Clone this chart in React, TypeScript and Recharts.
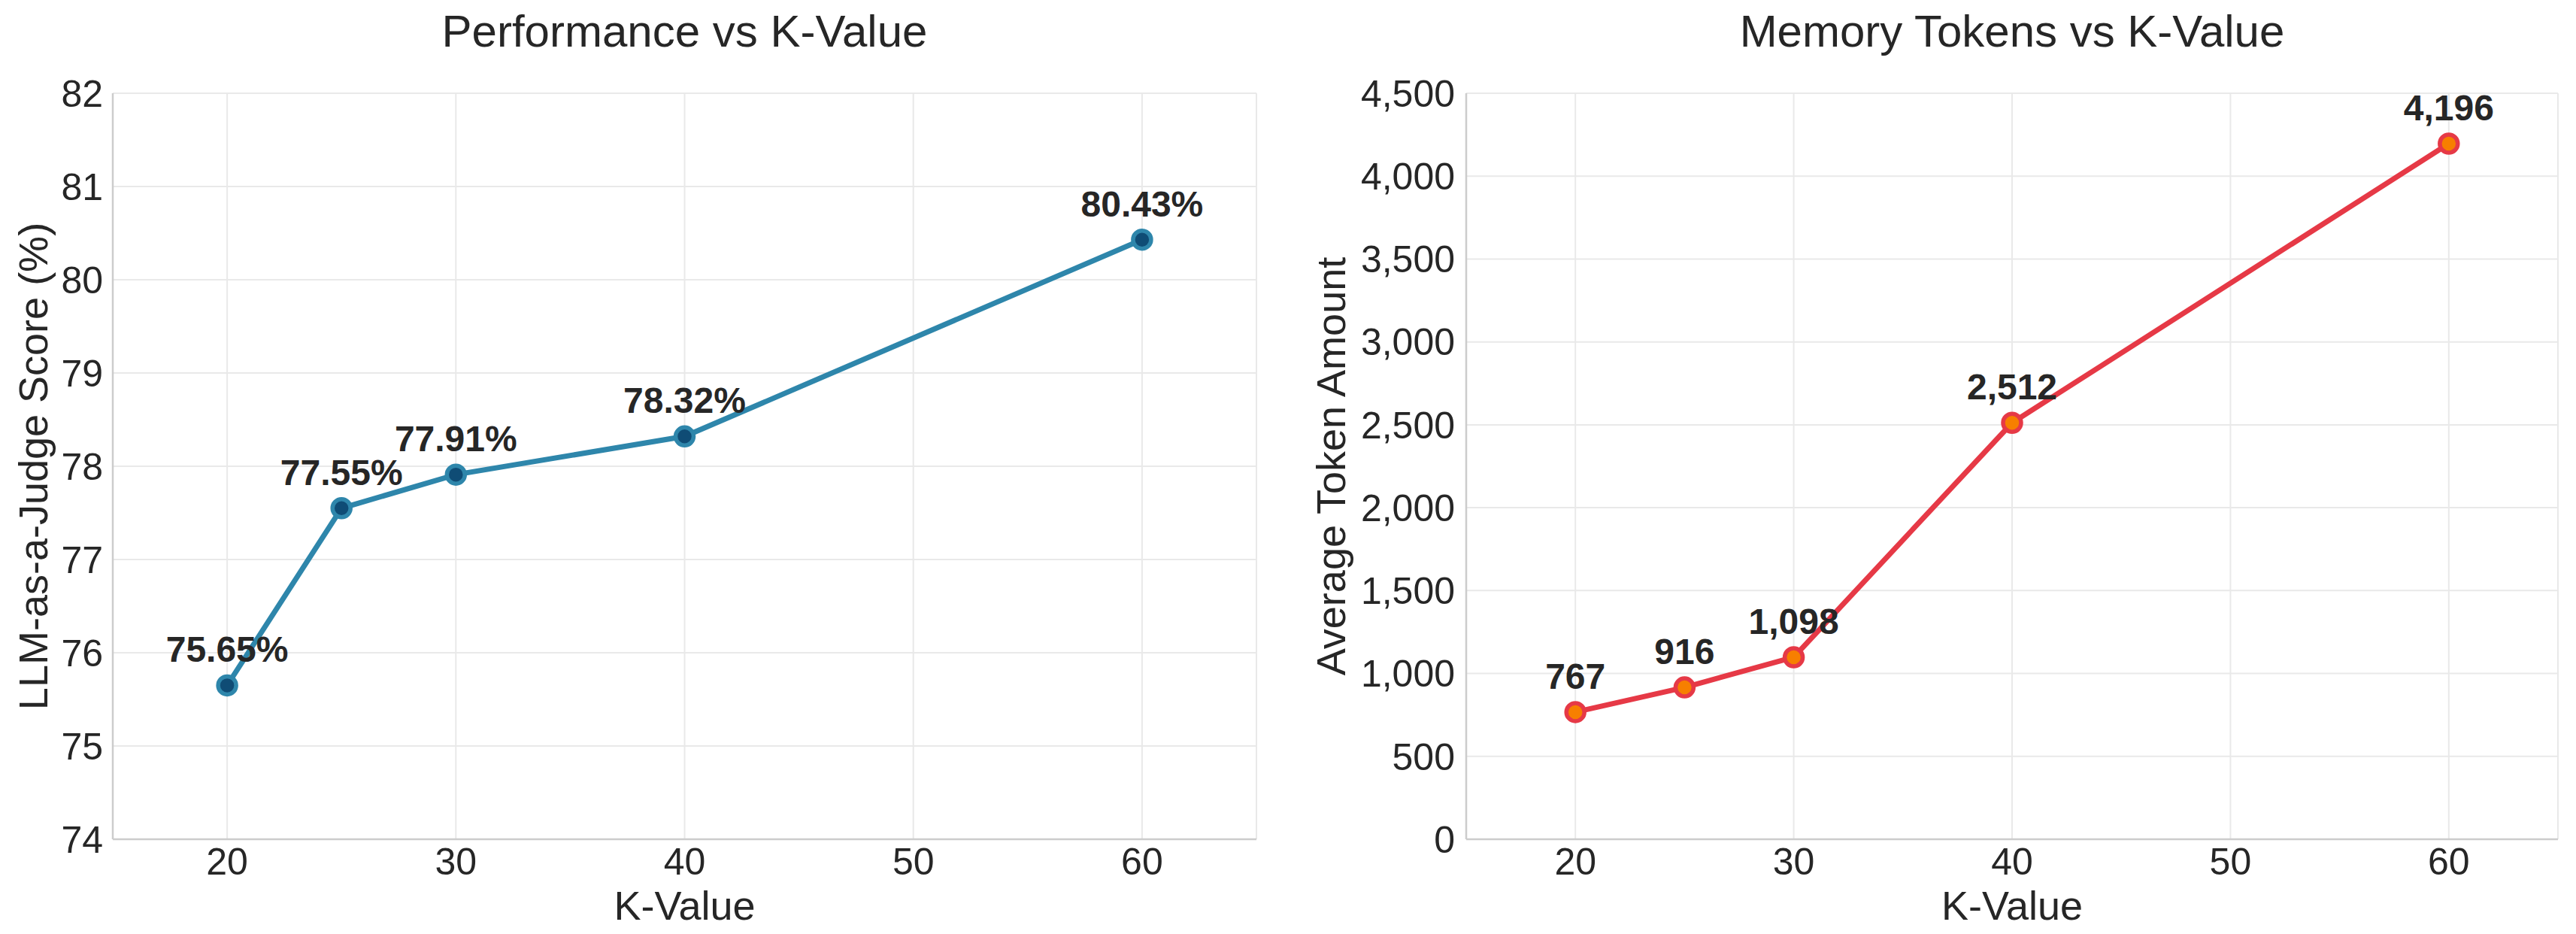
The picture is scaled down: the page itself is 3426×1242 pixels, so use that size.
import { LineChart, Line, XAxis, YAxis, CartesianGrid, LabelList, Label } from "recharts";

const kValues = [20, 25, 30, 40, 60];
const judgeScores = [75.65, 77.55, 77.91, 78.32, 80.43];
const tokenAmounts = [767, 916, 1098, 2512, 4196];

const kTicks = [20, 30, 40, 50, 60];
const scoreTicks = [74, 75, 76, 77, 78, 79, 80, 81, 82];
const tokenTicks = [0, 500, 1000, 1500, 2000, 2500, 3000, 3500, 4000, 4500];

const FONT = "'Liberation Sans', Arial, Helvetica, sans-serif";
const TEXT = "#262626";
const GRID = "#e9e9e9";
const SPINE = "#cccccc";

const W = 1713;
const H = 1242;

const perfData = kValues.map((k, i) => ({ k, v: judgeScores[i] }));
const tokenData = kValues.map((k, i) => ({ k, v: tokenAmounts[i] }));

const fmtComma = (v: number) => v.toLocaleString("en-US");

// value label sitting above each marker
const valueLabel = (fmt: (v: number) => string) => (p: any) => (
  <text
    x={p.x}
    y={p.y - 31}
    textAnchor="middle"
    fontFamily={FONT}
    fontSize={48}
    fontWeight="bold"
    fill={TEXT}
  >
    {fmt(Number(p.value))}
  </text>
);

const yTitle = (text: string, cx: number) => (p: any) => {
  const vb = p.viewBox;
  const x = vb.x + cx;
  const y = vb.y + vb.height / 2;
  return (
    <text
      x={x}
      y={y}
      transform={`rotate(-90 ${x} ${y})`}
      textAnchor="middle"
      dominantBaseline="central"
      fontFamily={FONT}
      fontSize={54}
      fill={TEXT}
    >
      {text}
    </text>
  );
};

const xTitle = (p: any) => {
  const vb = p.viewBox;
  return (
    <text
      x={vb.x + vb.width / 2}
      y={vb.y + 107}
      textAnchor="middle"
      fontFamily={FONT}
      fontSize={54}
      fill={TEXT}
    >
      K-Value
    </text>
  );
};

type PanelProps = {
  left: number;
  title: string;
  yLabel: string;
  yLabelX: number;
  data: { k: number; v: number }[];
  yDomain: [number, number];
  yTicks: number[];
  yFmt: (v: number) => string;
  labelFmt: (v: number) => string;
  yWidth: number;
  rightMargin: number;
  tickGap: number;
  lineColor: string;
  dotFill: string;
};

function Panel(p: PanelProps) {
  const plotLeft = p.yWidth;
  const plotWidth = W - p.yWidth - p.rightMargin;
  return (
    <div style={{ position: "absolute", left: p.left, top: 0, width: W, height: H }}>
      <div
        style={{
          position: "absolute",
          left: plotLeft,
          width: plotWidth,
          top: 12,
          textAlign: "center",
          fontFamily: FONT,
          fontSize: 60,
          lineHeight: "60px",
          color: TEXT,
          whiteSpace: "nowrap",
        }}
      >
        {p.title}
      </div>
      <LineChart
        width={W}
        height={H}
        data={p.data}
        margin={{ top: 124, right: p.rightMargin, bottom: 0, left: 0 }}
      >
        <CartesianGrid stroke={GRID} strokeWidth={2} />
        <XAxis
          dataKey="k"
          type="number"
          domain={[15, 65]}
          ticks={kTicks}
          height={126}
          axisLine={{ stroke: SPINE, strokeWidth: 2.5 }}
          tickLine={false}
          tickSize={9}
          tickMargin={2}
          tick={{ fill: TEXT, fontSize: 50, fontFamily: FONT }}
        >
          <Label content={xTitle} />
        </XAxis>
        <YAxis
          type="number"
          domain={p.yDomain}
          ticks={p.yTicks}
          width={p.yWidth}
          interval={0}
          allowDataOverflow
          axisLine={{ stroke: SPINE, strokeWidth: 2.5 }}
          tickLine={false}
          tickSize={p.tickGap}
          tickMargin={3}
          tickFormatter={p.yFmt}
          tick={{ fill: TEXT, fontSize: 50, fontFamily: FONT }}
        >
          <Label content={yTitle(p.yLabel, p.yLabelX)} />
        </YAxis>
        <Line
          dataKey="v"
          type="linear"
          stroke={p.lineColor}
          strokeWidth={7}
          dot={{ r: 12, fill: p.dotFill, stroke: p.lineColor, strokeWidth: 5.5 }}
          activeDot={false}
          isAnimationActive={false}
        >
          <LabelList dataKey="v" content={valueLabel(p.labelFmt)} />
        </Line>
      </LineChart>
    </div>
  );
}

export default function App() {
  return (
    <div
      style={{
        position: "absolute",
        left: 0,
        top: 0,
        width: 3426,
        height: 1242,
        background: "#ffffff",
        fontFamily: FONT,
        overflow: "hidden",
      }}
    >
      <Panel
        left={0}
        title="Performance vs K-Value"
        yLabel="LLM-as-a-Judge Score (%)"
        yLabelX={44}
        data={perfData}
        yDomain={[74, 82]}
        yTicks={scoreTicks}
        yFmt={(v) => String(v)}
        labelFmt={(v) => `${v.toFixed(2)}%`}
        yWidth={150}
        rightMargin={42}
        tickGap={10}
        lineColor="#2E86AB"
        dotFill="#0F4C75"
      />
      <Panel
        left={1713}
        title="Memory Tokens vs K-Value"
        yLabel="Average Token Amount"
        yLabelX={57}
        data={tokenData}
        yDomain={[0, 4500]}
        yTicks={tokenTicks}
        yFmt={fmtComma}
        labelFmt={fmtComma}
        yWidth={237}
        rightMargin={24}
        tickGap={12}
        lineColor="#E63946"
        dotFill="#F77F00"
      />
    </div>
  );
}
